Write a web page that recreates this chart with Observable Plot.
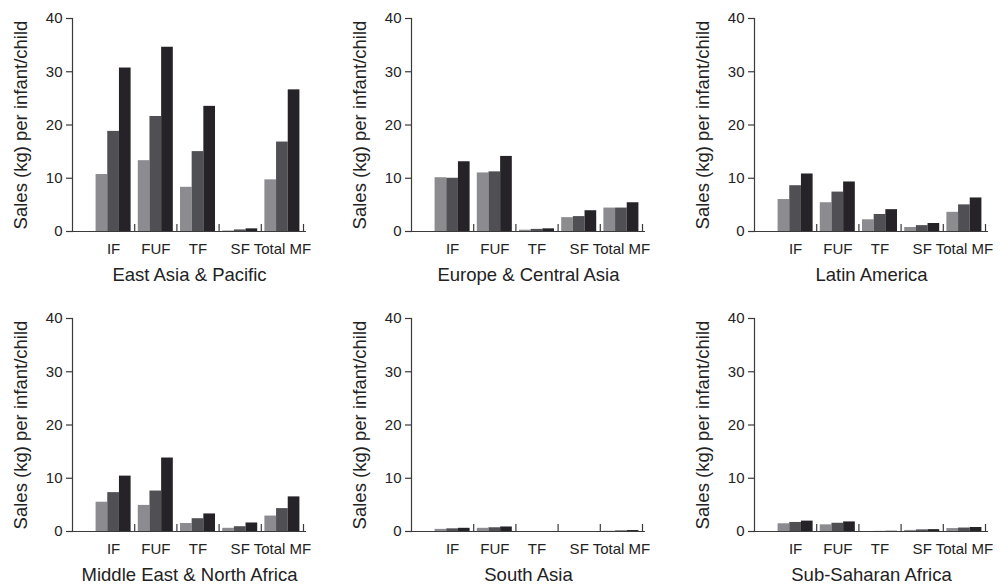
<!DOCTYPE html>
<html>
<head>
<meta charset="utf-8">
<script src="https://cdn.jsdelivr.net/npm/d3@7"></script>
<script src="https://cdn.jsdelivr.net/npm/@observablehq/plot@0.6"></script>
<style>
  html, body { margin: 0; padding: 0; background: #ffffff; }
  #chart { position: relative; width: 1002px; height: 586px; overflow: hidden; }
  #chart > svg, #chart > figure { position: absolute; margin: 0; }
  g[aria-label="y-axis label"] text, g[aria-label="x-axis label"] text { font-size: 18.5px !important; }
</style>
</head>
<body>
<div id="chart"></div>
<script>
const categories = ["IF", "FUF", "TF", "SF", "Total MF"];
const series = ["light", "mid", "dark"];
const seriesColors = ["#8c8c90", "#4f4f54", "#252327"];
const yTicks = [0, 10, 20, 30, 40];
const yLabel = "Sales (kg) per infant/child";
const regions = ["East Asia & Pacific", "Europe & Central Asia", "Latin America",
                 "Middle East & North Africa", "South Asia", "Sub-Saharan Africa"];

// values per category: [light, mid, dark]
const eastAsiaPacific = [[10.7, 18.8, 30.7], [13.3, 21.6, 34.6], [8.3, 15.0, 23.5], [0.1, 0.3, 0.5], [9.7, 16.8, 26.6]];
const europeCentralAsia = [[10.1, 10.0, 13.1], [11.0, 11.2, 14.1], [0.25, 0.4, 0.5], [2.6, 2.8, 3.9], [4.4, 4.4, 5.4]];
const latinAmerica = [[6.0, 8.6, 10.8], [5.4, 7.4, 9.3], [2.2, 3.2, 4.1], [0.75, 1.1, 1.5], [3.6, 5.0, 6.3]];
const middleEastNorthAfrica = [[5.5, 7.3, 10.4], [4.9, 7.6, 13.8], [1.5, 2.4, 3.3], [0.6, 0.9, 1.6], [2.9, 4.3, 6.5]];
const southAsia = [[0.4, 0.5, 0.6], [0.6, 0.7, 0.85], [0, 0, 0], [0, 0, 0], [0.05, 0.12, 0.18]];
const subSaharanAfrica = [[1.45, 1.7, 1.95], [1.25, 1.55, 1.8], [0, 0.02, 0.05], [0.2, 0.3, 0.35], [0.55, 0.65, 0.75]];

const regionValues = [eastAsiaPacific, europeCentralAsia, latinAmerica, middleEastNorthAfrica, southAsia, subSaharanAfrica];

// layout
const W = 320, H = 286, ML = 72, MR = 14, MT = 18, MB = 55;
const INL = 20, INR = 3, PAD = 0.17;
const colLefts = [0, 339, 682];
const rowTops = [0, 300];
const axisColor = "#3a3a3a";
const textColor = "#222";

const rangeW = W - ML - MR - INL - INR;
const step = rangeW / (categories.length - PAD + PAD);
const bw = step * (1 - PAD);
const third = bw / 3;
const frameH = H - MT - MB;
const tickLen = 7 * 40 / frameH;

const chart = document.getElementById("chart");

regions.forEach((region, k) => {
  const vals = regionValues[k];
  const rows = categories.flatMap((c, i) => series.map((s, j) => ({category: c, series: s, value: vals[i][j]})));
  const plot = Plot.plot({
    width: W, height: H,
    marginLeft: ML, marginRight: MR, marginTop: MT, marginBottom: MB,
    style: {fontFamily: "'Liberation Sans', Arial, Helvetica, sans-serif", fontSize: "15px", color: textColor, background: "transparent", overflow: "visible"},
    x: {domain: categories, paddingInner: PAD, paddingOuter: PAD / 2, insetLeft: INL, insetRight: INR, round: false, label: null},
    y: {domain: [0, 40], label: null},
    marks: [
      ...series.map((s, j) => Plot.barY(rows.filter(r => r.series === s), {
        x: "category", y: "value", fill: seriesColors[j],
        insetLeft: j * third, insetRight: (2 - j) * third
      })),
      Plot.ruleY([0], {stroke: axisColor, strokeWidth: 1.2}),
      Plot.frame({anchor: "left", stroke: axisColor, strokeWidth: 1.2}),
      Plot.ruleX(categories.slice(1), {x: d => d, y1: 0, y2: tickLen, dx: -step / 2, stroke: axisColor, strokeWidth: 1.2}),
      Plot.ruleX(categories.slice(-1), {x: d => d, y1: 0, y2: tickLen, dx: step / 2, stroke: axisColor, strokeWidth: 1.2}),
      Plot.axisY({ticks: yTicks, tickSize: 6, tickPadding: 4, stroke: axisColor, strokeWidth: 1.2,
                  label: yLabel, labelArrow: "none", labelAnchor: "center", labelOffset: 59}),
      Plot.axisX({tickSize: 0, tickPadding: 12, label: region, labelArrow: "none", labelAnchor: "center", labelOffset: 49})
    ]
  });
  plot.style.left = colLefts[k % 3] + "px";
  plot.style.top = rowTops[Math.floor(k / 3)] + "px";
  chart.appendChild(plot);
});
</script>
</body>
</html>
